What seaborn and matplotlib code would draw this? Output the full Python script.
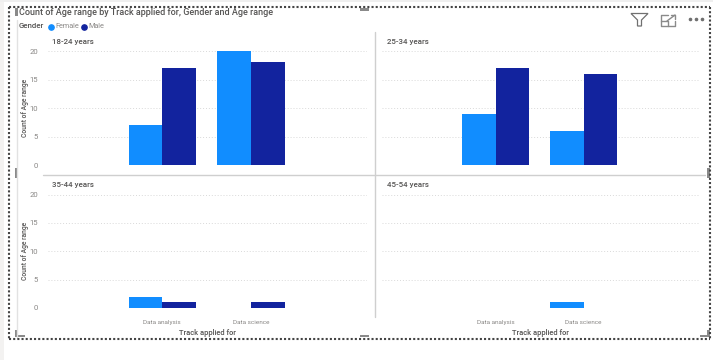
import matplotlib

matplotlib.use("Agg")
import matplotlib.pyplot as plt
import pandas as pd
import seaborn as sns
from matplotlib.lines import Line2D
from matplotlib.patches import Polygon, Rectangle

W, H = 713, 360

age_ranges = ["18-24 years", "25-34 years", "35-44 years", "45-54 years"]
tracks = ["Data analysis", "Data science"]
genders = ["Female", "Male"]
female_counts = [[7, 20], [9, 6], [2, 0], [0, 1]]
male_counts = [[17, 18], [17, 16], [1, 1], [0, 0]]
y_ticks = [0, 5, 10, 15, 20]

BLUE = "#118DFF"
NAVY = "#12239E"
GREY = "#8A8886"
DARK = "#555453"

sns.set_theme(style="white")
plt.rcParams["font.family"] = ["Roboto", "DejaVu Sans"]

rows = []
for age, fem, mal in zip(age_ranges, female_counts, male_counts):
    for i, track in enumerate(tracks):
        rows.append({"age": age, "track": track, "gender": "Female", "count": fem[i]})
        rows.append({"age": age, "track": track, "gender": "Male", "count": mal[i]})
df = pd.DataFrame(rows)

fig = plt.figure(figsize=(W / 100, H / 100), dpi=100, facecolor="white")


# pixel helpers, y measured from the top of the image
def fx(x):
    return x / W


def fy(y):
    return 1 - y / H


def fig_line(xs, ys, **kw):
    fig.add_artist(Line2D([fx(x) for x in xs], [fy(y) for y in ys], **kw))


# panels: left, right, y of 20, y of 0
panels = [
    (48, 367, 51, 165.5),
    (382, 699, 51, 165.5),
    (48, 367, 194.5, 308),
    (382, 699, 194.5, 308),
]

for n, (age, (x0, x1, y20, y0)) in enumerate(zip(age_ranges, panels)):
    ax = fig.add_axes([fx(x0), fy(y0), (x1 - x0) / W, (y0 - y20) / H])
    sub = df[df["age"] == age]
    sns.barplot(
        data=sub,
        x="track",
        y="count",
        hue="gender",
        order=tracks,
        hue_order=genders,
        palette=[BLUE, NAVY],
        saturation=1,
        width=0.76,
        gap=0,
        linewidth=0,
        errorbar=None,
        legend=False,
        ax=ax,
    )
    ax.set_xlim(-1.29, 2.31)
    ax.set_ylim(0, 20)
    ax.set_yticks(y_ticks)
    ax.grid(axis="y", color="#D9D9D9", linestyle=(0, (1, 2)), linewidth=0.7)
    ax.set_axisbelow(True)
    for s in ax.spines.values():
        s.set_visible(False)
    ax.patch.set_alpha(0)
    ax.tick_params(length=0, pad=7)
    ax.set_xlabel("")
    ax.set_ylabel("")

    if n % 2 == 0:
        ax.set_yticklabels([str(t) for t in y_ticks], fontsize=5.6, color=GREY)
        ax.set_ylabel("Count of Age range", fontsize=4.9, color=DARK, fontweight="medium")
        ax.yaxis.set_label_coords(-19 / (x1 - x0), 0.5)
    else:
        ax.set_yticklabels([])

    if n >= 2:
        ax.set_xticks(range(len(tracks)))
        ax.set_xticklabels(tracks, fontsize=4.6, color=GREY)
        ax.tick_params(axis="x", pad=8.3)
        ax.set_xlabel("Track applied for", fontsize=5.4, color=DARK, labelpad=3.5, fontweight="medium")
    else:
        ax.set_xticks([])

    # small multiple title sits just above the 20 line
    fig.text(fx(x0 + 4.5), fy(y20 - 9), age, fontsize=5.7, color=DARK, va="center", fontweight="medium")

# title and legend
fig.text(fx(19), fy(12.5), "Count of Age range by Track applied for, Gender and Age range",
         fontsize=6.5, color=DARK, va="center", fontweight="medium")
fig.text(fx(19), fy(26.5), "Gender", fontsize=5.7, color=DARK, va="center", fontweight="medium")
fig.add_artist(Line2D([fx(51)], [fy(26.5)], marker="o", ms=3.8, color=BLUE, lw=0))
fig.text(fx(55), fy(26.5), "Female", fontsize=5.2, color=GREY, va="center")
fig.add_artist(Line2D([fx(84)], [fy(26.5)], marker="o", ms=3.8, color=NAVY, lw=0))
fig.text(fx(88), fy(26.5), "Male", fontsize=5.2, color=GREY, va="center")

# dividers between the panels
fig_line([43, 705], [175, 175], color="#CFCFCF", lw=1)
fig_line([375, 375], [32, 317], color="#CFCFCF", lw=1)
fig_line([16.5, 16.5], [20, 338], color="#E2E2E2", lw=1)

# dotted selection frame
frame_kw = dict(color="#444444", lw=1.5, linestyle=(0, (1, 1)))
fig_line([9, 710], [7, 7], **frame_kw)
fig_line([9, 710], [338.5, 338.5], **frame_kw)
fig_line([9, 9], [7, 338.5], **frame_kw)
fig_line([710, 710], [7, 338.5], **frame_kw)

# resize handles
for hx, hy, hw, hh in [
    (15, 8, 3, 8), (15, 168, 3, 10), (360, 8, 9, 3), (360, 335, 9, 2),
    (15, 330, 3, 6), (15, 335, 10, 2), (707, 168, 3, 10), (700, 335, 9, 2), (707, 330, 3, 6),
]:
    fig.add_artist(Rectangle((fx(hx), fy(hy + hh)), hw / W, hh / H, transform=fig.transFigure,
                             color="#8A8A8A", lw=0))

# header icons: filter, focus mode, more options
fig.add_artist(Polygon(
    [(fx(631), fy(13.5)), (fx(648), fy(13.5)), (fx(641.5), fy(20)), (fx(641.5), fy(26)),
     (fx(637.5), fy(26)), (fx(637.5), fy(20))],
    closed=True, fill=False, edgecolor="#707070", lw=0.9, transform=fig.transFigure,
))
icon_kw = dict(color="#8A8A8A", lw=1)
fig_line([668, 661, 661, 675, 675], [15, 15, 26, 26, 21], **icon_kw)
fig_line([661, 668, 668], [20.5, 20.5, 26], **icon_kw)
fig_line([667, 675], [21, 15], **icon_kw)
fig_line([671, 675, 675], [15, 15, 19], **icon_kw)
for ex in [690, 696, 702]:
    fig.add_artist(Line2D([fx(ex)], [fy(19)], marker="o", ms=1.6, color="#707070", lw=0))

# the window edge shows at the left and top of the screenshot
fig.add_artist(Rectangle((0, 0), fx(4), 1, transform=fig.transFigure, color="#F3F2F1", lw=0))
fig.add_artist(Rectangle((0, fy(2)), 1, 2 / H, transform=fig.transFigure, color="#EFEFEF", lw=0))

fig.savefig("out.png", dpi=100)
